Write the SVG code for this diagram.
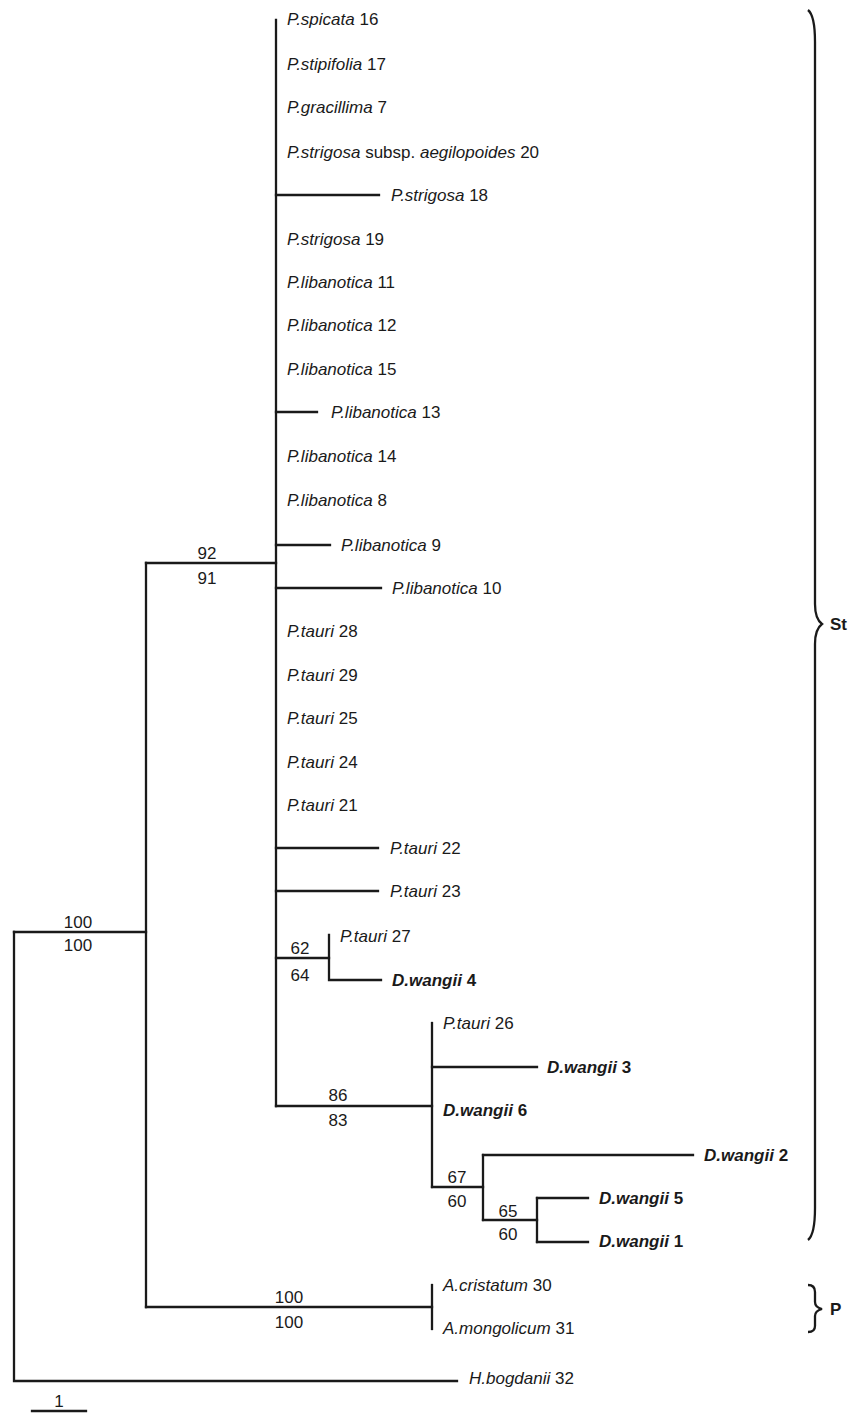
<svg xmlns="http://www.w3.org/2000/svg" width="855" height="1414" viewBox="0 0 855 1414">
<style>
text{font-family:"Liberation Sans",Arial,sans-serif;font-size:17px;fill:#1a1a1a}
.i{font-style:italic}
.b{font-weight:bold}
.br{fill:none;stroke:#1a1a1a;stroke-width:2.3}
#edges path{fill:none;stroke:#1a1a1a;stroke-width:2.3;stroke-linecap:square}
.n{text-anchor:middle}
</style>
<rect width="855" height="1414" fill="#fff"/>
<g id="edges">
<path d="M14,932 V1381 H457"/>
<path d="M14,932 H146"/>
<path d="M146,563 V1307"/>
<path d="M146,563 H276"/>
<path d="M276,20 V1106"/>
<path d="M276,195 H379"/>
<path d="M276,412 H317"/>
<path d="M276,545 H330"/>
<path d="M276,588 H381"/>
<path d="M276,848 H378"/>
<path d="M276,891 H378"/>
<path d="M276,958 H329"/>
<path d="M329,935 V980 H381"/>
<path d="M276,1106 H432"/>
<path d="M432,1023 V1187"/>
<path d="M432,1067 H537"/>
<path d="M432,1187 H483"/>
<path d="M483,1155 V1220"/>
<path d="M483,1155 H693"/>
<path d="M483,1220 H537"/>
<path d="M537,1198 V1242"/>
<path d="M537,1198 H588"/>
<path d="M537,1242 H588"/>
<path d="M146,1307 H432"/>
<path d="M432,1285 V1329"/>
<path d="M32,1411 H86"/>
</g>
<g id="support">
<text class="n" x="207" y="559">92</text>
<text class="n" x="207" y="584">91</text>
<text class="n" x="78" y="928">100</text>
<text class="n" x="78" y="951">100</text>
<text class="n" x="300" y="954">62</text>
<text class="n" x="300" y="981">64</text>
<text class="n" x="338" y="1101">86</text>
<text class="n" x="338" y="1126">83</text>
<text class="n" x="457" y="1183">67</text>
<text class="n" x="457" y="1207">60</text>
<text class="n" x="508" y="1217">65</text>
<text class="n" x="508" y="1240">60</text>
<text class="n" x="289" y="1303">100</text>
<text class="n" x="289" y="1328">100</text>
<text class="n" x="59" y="1407">1</text>
</g>
<g id="leaves">
<text x="287" y="25"><tspan class="i">P.spicata</tspan> 16</text>
<text x="287" y="70"><tspan class="i">P.stipifolia</tspan> 17</text>
<text x="287" y="113"><tspan class="i">P.gracillima</tspan> 7</text>
<text x="287" y="158"><tspan class="i">P.strigosa</tspan> subsp. <tspan class="i">aegilopoides</tspan> 20</text>
<text x="391" y="201"><tspan class="i">P.strigosa</tspan> 18</text>
<text x="287" y="245"><tspan class="i">P.strigosa</tspan> 19</text>
<text x="287" y="288"><tspan class="i">P.libanotica</tspan> 11</text>
<text x="287" y="331"><tspan class="i">P.libanotica</tspan> 12</text>
<text x="287" y="375"><tspan class="i">P.libanotica</tspan> 15</text>
<text x="331" y="418"><tspan class="i">P.libanotica</tspan> 13</text>
<text x="287" y="462"><tspan class="i">P.libanotica</tspan> 14</text>
<text x="287" y="506"><tspan class="i">P.libanotica</tspan> 8</text>
<text x="341" y="551"><tspan class="i">P.libanotica</tspan> 9</text>
<text x="392" y="594"><tspan class="i">P.libanotica</tspan> 10</text>
<text x="287" y="637"><tspan class="i">P.tauri</tspan> 28</text>
<text x="287" y="681"><tspan class="i">P.tauri</tspan> 29</text>
<text x="287" y="724"><tspan class="i">P.tauri</tspan> 25</text>
<text x="287" y="768"><tspan class="i">P.tauri</tspan> 24</text>
<text x="287" y="811"><tspan class="i">P.tauri</tspan> 21</text>
<text x="390" y="854"><tspan class="i">P.tauri</tspan> 22</text>
<text x="390" y="897"><tspan class="i">P.tauri</tspan> 23</text>
<text x="340" y="942"><tspan class="i">P.tauri</tspan> 27</text>
<text x="392" y="986" class="b"><tspan class="i">D.wangii</tspan> 4</text>
<text x="443" y="1029"><tspan class="i">P.tauri</tspan> 26</text>
<text x="547" y="1073" class="b"><tspan class="i">D.wangii</tspan> 3</text>
<text x="443" y="1116" class="b"><tspan class="i">D.wangii</tspan> 6</text>
<text x="704" y="1161" class="b"><tspan class="i">D.wangii</tspan> 2</text>
<text x="599" y="1204" class="b"><tspan class="i">D.wangii</tspan> 5</text>
<text x="599" y="1247" class="b"><tspan class="i">D.wangii</tspan> 1</text>
<text x="443" y="1291"><tspan class="i">A.cristatum</tspan> 30</text>
<text x="443" y="1334"><tspan class="i">A.mongolicum</tspan> 31</text>
<text x="469" y="1384"><tspan class="i">H.bogdanii</tspan> 32</text>
</g>
<g id="brace-St">
<path class="br" d="M808,10 C813,14 815,24 815,42 L815,604 C815,615 818,621 822,624 C818,627 815,633 815,644 L815,1208 C815,1226 813,1236 808,1240"/>
<text class="b" x="830" y="630">St</text>
</g>
<g id="brace-P">
<path class="br" d="M808,1285 C813,1285 815,1287 815,1292 L815,1302 C815,1306 818,1308 822,1309 C818,1310 815,1312 815,1316 L815,1326 C815,1330 813,1332 808,1332"/>
<text class="b" x="830" y="1315">P</text>
</g>
</svg>
